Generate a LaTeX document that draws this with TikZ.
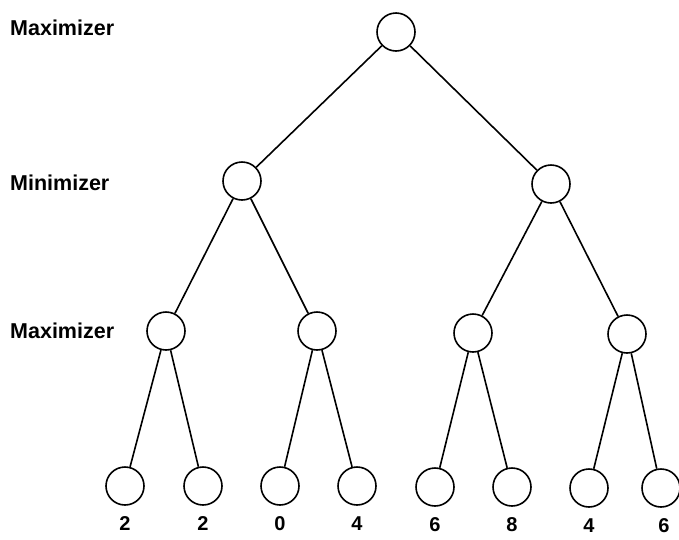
\documentclass[tikz,border=0pt]{standalone}
\usepackage{fontspec}
\setmainfont{Liberation Sans}
\usepackage{tikz}

\begin{document}
\begin{tikzpicture}[x=1pt,y=-1pt,
    state/.style={draw,circle,line width=1.6pt,minimum size=38pt,inner sep=0pt},
    lvl/.style={anchor=west,inner sep=0pt,font=\fontsize{21.5}{25}\selectfont\bfseries},
    val/.style={inner sep=0pt,font=\fontsize{20}{24}\selectfont\bfseries},
    edge/.style={line width=1.6pt}]
        \useasboundingbox (0,0) rectangle (679,539);
        % level names
        \node[lvl] (lmax1) at (10,28) {Maximizer};
        \node[lvl] (lmin) at (10,183) {Minimizer};
        \node[lvl] (lmax2) at (10,331) {Maximizer};
        % tree
        \node[state] (root) at (396,32) {};
        \node[state] (mn1) at (242,181) {};
        \node[state] (mn2) at (551,184) {};
        \node[state] (mx1) at (166,331) {};
        \node[state] (mx2) at (317,331) {};
        \node[state] (mx3) at (473,333) {};
        \node[state] (mx4) at (627,334) {};
        \node[state] (lf1) at (125,486) {};
        \node[state] (lf2) at (203,486) {};
        \node[state] (lf3) at (280,486) {};
        \node[state] (lf4) at (357,486) {};
        \node[state] (lf5) at (435,487) {};
        \node[state] (lf6) at (512,487) {};
        \node[state] (lf7) at (589,488) {};
        \node[state] (lf8) at (661,488) {};
        % leaf values
        \node[val] (v1) at (125,524) {2};
        \node[val] (v2) at (203,524) {2};
        \node[val] (v3) at (280,524) {0};
        \node[val] (v4) at (357,524) {4};
        \node[val] (v5) at (435,525) {6};
        \node[val] (v6) at (512,525) {8};
        \node[val] (v7) at (589,526) {4};
        \node[val] (v8) at (664,526) {6};
        % edges
        \draw[edge] (root) -- (mn1);
        \draw[edge] (root) -- (mn2);
        \draw[edge] (mn1) -- (mx1);
        \draw[edge] (mn1) -- (mx2);
        \draw[edge] (mn2) -- (mx3);
        \draw[edge] (mn2) -- (mx4);
        \draw[edge] (mx1) -- (lf1);
        \draw[edge] (mx1) -- (lf2);
        \draw[edge] (mx2) -- (lf3);
        \draw[edge] (mx2) -- (lf4);
        \draw[edge] (mx3) -- (lf5);
        \draw[edge] (mx3) -- (lf6);
        \draw[edge] (mx4) -- (lf7);
        \draw[edge] (mx4) -- (lf8);
\end{tikzpicture}
\end{document}
